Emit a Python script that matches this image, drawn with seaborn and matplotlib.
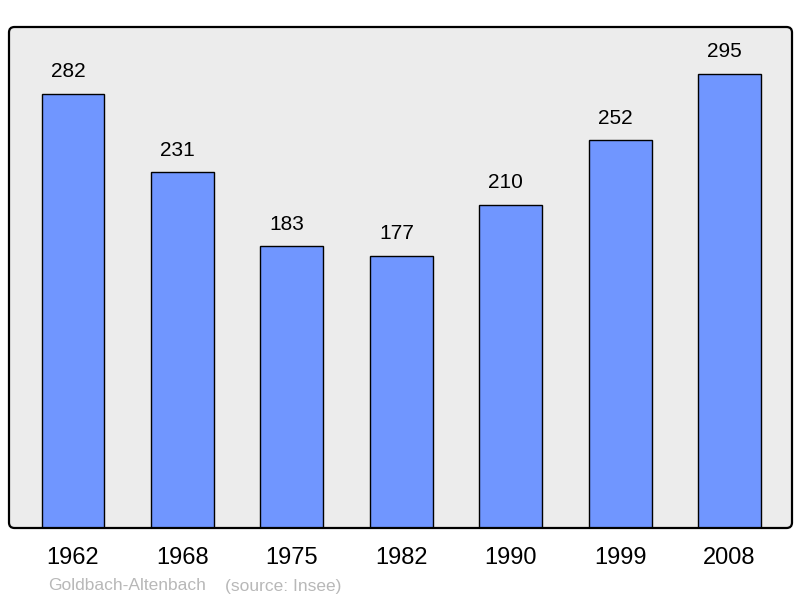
import matplotlib
matplotlib.use("Agg")
import matplotlib.pyplot as plt
import seaborn as sns
import pandas as pd
from matplotlib.patches import FancyBboxPatch

years = ["1962", "1968", "1975", "1982", "1990", "1999", "2008"]
population = [282, 231, 183, 177, 210, 252, 295]
commune = "Goldbach-Altenbach"
source = "(source: Insee)"

sns.set_theme(style="white")
plt.rcParams['font.family'] = ['Liberation Sans', 'DejaVu Sans']

df = pd.DataFrame({"year": years, "pop": population})

fig = plt.figure(figsize=(8, 5.98), dpi=100)
ax = fig.add_axes([9/800, 1-528/598, 783/800, 501/598])
ax.set_facecolor("none")

sns.barplot(data=df, x="year", y="pop", ax=ax, color="#7096ff", saturation=1,
            width=0.575, edgecolor="black", linewidth=1.0, zorder=3)

ax.set_xlim(-0.585, 6.57)
ax.set_ylim(0, 325.5)
for s in ax.spines.values():
    s.set_visible(False)
ax.set_yticks([])
ax.set_xlabel("")
ax.set_ylabel("")
ax.tick_params(axis="x", length=0, pad=14, labelsize=17, colors="black")

for c in ax.containers:
    anns = ax.bar_label(c, padding=9, fontsize=15, color="black")
    for a in anns:
        a.xyann = (-3.6, 9)

aspect = 783/501
frame = FancyBboxPatch((0, 0), 1, 1, boxstyle="round,pad=0,rounding_size=0.007",
                       mutation_aspect=aspect, transform=ax.transAxes,
                       facecolor="#ececec", edgecolor="none", linewidth=0,
                       clip_on=False, zorder=0)
ax.add_patch(frame)
frame2 = FancyBboxPatch((0, 0), 1, 1, boxstyle="round,pad=0,rounding_size=0.007",
                        mutation_aspect=aspect, transform=ax.transAxes,
                        facecolor="none", edgecolor="black", linewidth=1.6,
                        clip_on=False, zorder=5)
ax.add_patch(frame2)

fig.text(48/800, 1-586/598, commune, fontsize=12.5, color="#b8b8b8", va="center", ha="left")
fig.text(225/800, 1-586/598, source, fontsize=12.5, color="#b8b8b8", va="center", ha="left")

fig.savefig("out.png", dpi=100, facecolor="white")
